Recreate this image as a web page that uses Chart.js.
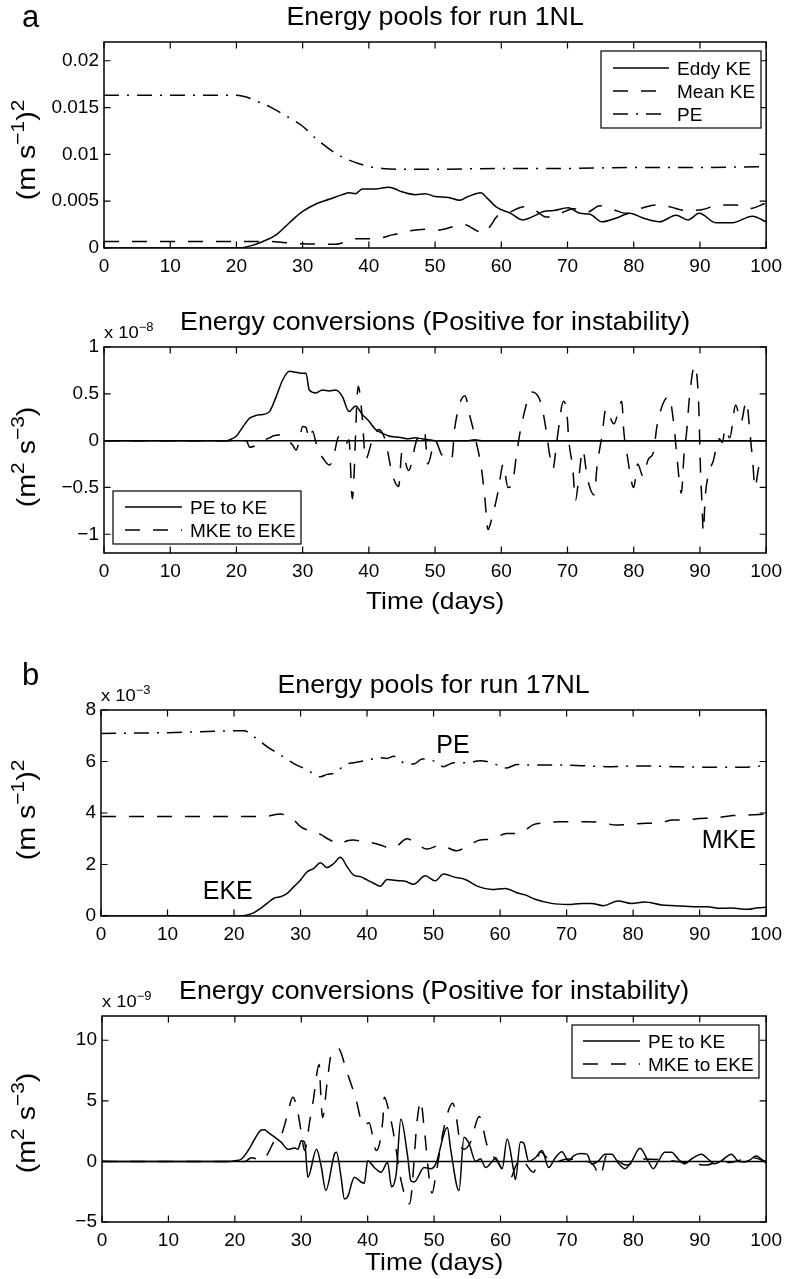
<!DOCTYPE html>
<html><head><meta charset="utf-8">
<script src="https://cdn.jsdelivr.net/npm/chart.js@4.4.1/dist/chart.umd.min.js"></script>
<style>
html,body{margin:0;padding:0;background:#fff;}
#wrap{position:relative;width:789px;height:1279px;overflow:hidden;background:#fff;}
canvas{position:absolute;left:0;}
</style></head><body><div id="wrap">
<canvas id="c1" width="789" height="300" style="top:0px"></canvas>
<canvas id="c2" width="789" height="340" style="top:300px"></canvas>
<canvas id="c3" width="789" height="320" style="top:640px"></canvas>
<canvas id="c4" width="789" height="319" style="top:960px"></canvas>
</div>
<script>
// ---------------- DATA ----------------
const xTickValues = [0,10,20,30,40,50,60,70,80,90,100];
const xTickLabels = ['0','10','20','30','40','50','60','70','80','90','100'];

// Panel a, energy pools (m s^-1)^2
const poolA_yTicks = [0,0.005,0.01,0.015,0.02];
const poolA_yLabels = ['0','0.005','0.01','0.015','0.02'];
const eddyKE_days = [0,20,22,24,26,28,30,32,34,36,37,38,39,41,43,44,45,47,48.5,50,52,53.7,55,56.9,57.9,59.4,61.4,63.2,64.9,66.4,67.9,70.1,71.9,73.4,75.2,77.4,79.4,81.4,83.9,86.4,88.2,89.9,92.4,94.9,97.9,100];
const eddyKE_vals = [0,0,0.0002,0.0007,0.0014,0.0027,0.0039,0.0047,0.0052,0.0057,0.0059,0.0058,0.0063,0.0063,0.0065,0.0063,0.0060,0.0057,0.0058,0.0055,0.0054,0.0051,0.0055,0.0059,0.0053,0.0043,0.0037,0.0030,0.0034,0.0039,0.0040,0.0043,0.0037,0.0036,0.0028,0.0032,0.0037,0.0032,0.0028,0.0035,0.0030,0.0037,0.0027,0.0027,0.0034,0.0028];
const meanKE_days = [0,25,27,30,32,35,37,38,40,42,43.5,45,46,48.5,50.4,52.9,54.4,56.4,57.4,58.4,59.4,60.9,63.4,64.9,66.9,68.9,70.9,72.9,74.9,76.9,78.9,81.4,83.4,85.4,87.9,90.4,92.9,95.4,97.4,100];
const meanKE_vals = [0.0007,0.0007,0.0006,0.00045,0.00042,0.0004,0.0008,0.001,0.001,0.0011,0.0014,0.0016,0.0018,0.002,0.0019,0.0023,0.0025,0.0018,0.0016,0.0024,0.0034,0.0037,0.0044,0.0041,0.0033,0.0037,0.0042,0.0038,0.0045,0.0041,0.0037,0.0043,0.0046,0.0044,0.0040,0.0041,0.0046,0.0046,0.0042,0.0048];
const peA_days = [0,20,21,22,23,25,27,30,32,35,37,40,42,45,50,60,70,80,90,100];
const peA_vals = [0.0163,0.0163,0.0162,0.0160,0.0157,0.0151,0.0143,0.0130,0.0117,0.0101,0.0094,0.0087,0.0085,0.0084,0.0084,0.0085,0.0085,0.0086,0.0086,0.0087];

// Panel a, energy conversions (x 1e-8 m^2 s^-3)
const convA_yTicks = [-1,-0.5,0,0.5,1];
const convA_yLabels = ['\u22121','\u22120.5','0','0.5','1'];
const peToKeA_days = [0,18.5,19,20,21,22,23,24,25,26,27,28,29,30,30.5,31,32,33,34,35,36,37,38,39,40,41,42,43,44,45,46,47,48,49,50,55,56,57,60,70,80,90,100];
const peToKeA_vals = [0,0,0.01,0.05,0.15,0.24,0.27,0.28,0.31,0.47,0.65,0.74,0.73,0.72,0.72,0.54,0.51,0.54,0.53,0.54,0.47,0.31,0.37,0.28,0.21,0.12,0.08,0.05,0.04,0.03,0.02,0.03,0.02,0.01,0,0,0.01,0,0,0,0,0,0];
const mkeToEkeA_days = [0,21.5,22,23,24,25,25.5,26.5,27.5,28.5,29,29.5,30,30.5,31,31.5,32,32.5,33,34,34.5,35.5,36,36.5,37,37.5,38.4,39,39.5,40.5,41.5,42.5,43.5,44.5,45,46,47.2,48.4,48.9,50,51,52.5,53,54.5,55.3,56,57,57.5,58,58.5,59.5,60.3,61,61.7,62.3,63,64.7,66,66.8,67.3,67.8,68.4,69.4,69.9,70.2,70.8,71.2,71.7,72.3,73,74,74.5,75.2,75.8,77,78.2,78.5,79,80,80.6,81.4,82.2,83,83.5,85.3,86.1,86.5,87.2,87.6,88,88.4,89.2,89.7,89.9,90,90.1,90.3,90.5,90.8,91.3,92,92.9,93.4,93.8,94.5,95.4,96.2,97,97.6,98,98.3,99,100];
const mkeToEkeA_vals = [0,0,-0.07,-0.05,0,0.03,0.05,0.06,0.02,-0.05,-0.1,0,0.15,0.14,0.02,0.1,-0.02,-0.13,-0.18,-0.26,-0.22,0.05,0.03,-0.04,0.01,-0.62,0.58,0.25,-0.2,0,0.12,0,-0.35,-0.49,-0.12,-0.32,0,0.1,-0.25,0,-0.15,-0.2,0.15,0.48,0.25,0.05,-0.3,-0.6,-0.95,-0.85,-0.55,-0.25,-0.5,-0.45,-0.15,0.15,0.52,0.4,0.1,-0.15,-0.3,0,0.42,0.3,0,-0.3,-0.64,-0.4,-0.1,-0.4,-0.58,-0.25,0.05,0.34,0.18,0.42,0.1,-0.15,-0.5,-0.25,-0.38,-0.2,-0.12,0.15,0.47,0.15,-0.15,-0.56,-0.15,0.1,0.45,0.8,0.55,0.2,-0.1,-0.35,-0.65,-0.97,-0.6,-0.35,-0.22,0.02,-0.02,0.13,0.03,0.38,0.2,0.42,0.05,-0.25,-0.5,-0.27,-0.35];

// Panel b, energy pools (x 1e-3 (m s^-1)^2)
const poolB_yTicks = [0,2,4,6,8];
const poolB_yLabels = ['0','2','4','6','8'];
const peB_days = [0,10,20,21.5,23,25,27,29,31,32,33,34,35,36,37,38,40,42,43,44,45.5,47,48.3,50.2,51.5,53,55,57,58,59.7,61,62.5,65,70,76,81,86,91,97,100];
const peB_vals = [7.09,7.12,7.19,7.19,6.96,6.57,6.25,5.92,5.67,5.51,5.41,5.5,5.54,5.73,5.9,5.95,6.05,6.15,6.12,6.2,5.95,5.9,6.1,6.0,5.8,5.95,5.95,6.03,6.0,5.85,5.75,5.88,5.86,5.86,5.8,5.83,5.8,5.78,5.78,5.85];
const mkeB_days = [0,22,25,27,28,29,30,31,32,33,34,35,36,37,38,39,40,42,43.5,44.5,46,47.5,49,51,53.5,55,57,58.5,61,63,65,67,69,71,73,75,77.5,79,82,84,86,88,90,92,95,97,100];
const mkeB_vals = [3.86,3.86,3.88,3.96,3.88,3.73,3.47,3.34,3.27,3.17,3.01,2.88,2.8,2.92,2.95,2.91,2.88,2.76,2.63,2.72,3.0,2.8,2.6,2.75,2.53,2.7,2.95,2.98,3.2,3.22,3.55,3.62,3.66,3.66,3.66,3.64,3.53,3.55,3.6,3.62,3.73,3.73,3.79,3.8,3.9,3.92,3.96];
const ekeB_days = [0,21,22,23,24,25,26,27,28,29,30,31,32,33,34,35,36,37,38,39,40,41,42,43,44.75,45.75,47,48.75,50.25,51.5,53.25,54.75,56.75,58.75,60.75,62.75,63.75,65.25,67.75,70.25,72.25,73.75,75.5,77.75,79.75,81.75,84.25,86.25,89.25,91.25,92.75,94.75,97.25,98.75,100];
const ekeB_vals = [0,0,0.04,0.13,0.3,0.5,0.69,0.75,0.88,1.14,1.4,1.72,1.85,2.07,1.88,2.04,2.28,1.91,1.59,1.53,1.4,1.27,1.16,1.42,1.37,1.35,1.23,1.56,1.37,1.63,1.5,1.42,1.14,1.03,1.07,0.88,0.82,0.65,0.49,0.45,0.49,0.49,0.4,0.58,0.49,0.54,0.43,0.4,0.36,0.36,0.3,0.31,0.26,0.32,0.34];

// Panel b, energy conversions (x 1e-9 m^2 s^-3)
const convB_yTicks = [-5,0,5,10];
const convB_yLabels = ['\u22125','0','5','10'];
const peToKeB_days = [0,19,20,21,22,23,24,24.5,25,26,27,28,29,29.5,30,30.5,31,32.3,33,33.7,35,35.3,36,36.5,37,38,39,39.5,40,41,42,43,43.6,44.3,45,46,46.5,47,48.5,49.5,50.25,52,52.5,53.75,54.5,55.25,56.25,57,57.75,58.75,59.25,60.25,61,62,62.25,63,63.5,64.25,65.25,66.25,67.25,68.25,69.25,70.25,71,72,73,73.75,74.75,75.75,76.75,77.75,78.75,79.75,81,82.25,83,83.75,84.75,85.75,86.75,87.75,88.75,90.25,91.25,92.25,93.25,94.75,95.75,96.75,97.5,98.5,99.25,100];
const peToKeB_vals = [0,0,0.05,0.2,0.9,1.85,2.6,2.62,2.4,2.0,1.57,1.0,1.1,1.0,1.7,1.6,-1.3,1.0,-0.4,-2.4,0.6,0.75,-1.3,-3.1,-2.9,-1.3,-1.7,-1.8,0.05,-0.5,-0.9,-0.1,-2.1,-1.0,3.5,0.5,-1.6,-1.7,-0.5,-0.6,-0.2,2.8,1.0,-2.4,2.0,1.5,0,0.2,-0.5,0,0.3,-0.6,1.85,-0.8,-1.5,1.6,1.5,0,0.3,0.9,-0.5,0.3,0.8,0.05,0.45,0.65,0.6,-0.2,0.05,0.6,0.6,-0.15,-0.6,0,1.08,0,-0.6,0,0.75,0.75,0.2,-0.2,0.2,0.6,0.2,-0.2,0.05,0.6,0.05,-0.05,0.1,0.45,0.2,-0.15];
const mkeToEkeB_days = [0,21.5,22.5,24,24.8,26.2,27,27.8,28.75,29.5,30,30.5,31.3,31.8,32.7,32.9,33.2,33.9,34.5,35.6,36.8,38.3,39.2,39.6,40.2,41.3,42.3,42.5,43.3,44,45,46.3,47.5,48,48.5,49.7,50.3,51.5,52.8,53.3,54,54.5,55.5,56.8,58,59.5,60.2,61.6,62.2,63,65,66,67,68,70,72,74,75,76,77,79,81,85,88,91,93,94.5,96,98,100];
const mkeToEkeB_vals = [0,0,0.3,0.1,0.5,1.9,2.2,3.6,5.3,4.0,2.4,0.9,3.4,5.0,8.0,6.0,3.6,6.5,8.8,9.3,7.5,5.0,3.1,3.0,3.2,0.9,3.5,5.3,3.9,2.0,-1.5,-3.5,3.6,5.0,2.8,-2.6,-1.0,2.8,4.8,3.8,1.3,1.0,1.6,3.7,1.3,0,-0.6,-1.3,-0.5,0.2,-0.9,0.8,0.3,-0.1,0.2,0.1,-0.3,-1.2,0.5,0.3,-0.3,0.2,0.1,-0.1,-0.3,0,-0.1,0.1,0.3,0];

// ---------------- RENDERING ----------------
const FONT = '"Liberation Sans", Arial, Helvetica, sans-serif';
const SOLID = [], DASHED = [15,13], DASHDOT = [15,8,2,8];
function f(size){ return size + 'px ' + FONT; }

// draw text made of [text, isSuperscript] parts, with optional horizontal stretch sx
function rich(ctx, parts, x, y, size, align, sx){
  sx = sx || 1;
  const sup = Math.round(size*0.72);
  let w = 0;
  const ws = parts.map(p => { ctx.font = f(p[1] ? sup : size); const m = ctx.measureText(p[0]).width; w += m; return m; });
  const W = w * sx;
  const x0 = align === 'center' ? x - W/2 : (align === 'right' ? x - W : x);
  ctx.save();
  ctx.translate(x0, y); ctx.scale(sx, 1);
  ctx.textAlign = 'left'; ctx.textBaseline = 'alphabetic';
  let cx = 0;
  parts.forEach((p,i) => { ctx.font = f(p[1] ? sup : size); ctx.fillText(p[0], cx, p[1] ? -size*0.42 : 0); cx += ws[i]; });
  ctx.restore();
}

function makeChart(id, cfg){
  const deco = {
    id: 'deco' + id,
    beforeDatasetsDraw(chart){
      const ctx = chart.ctx, a = chart.chartArea, ys = chart.scales.y;
      if (cfg.zeroLine){
        ctx.save(); ctx.strokeStyle = '#000'; ctx.lineWidth = 1.5; ctx.setLineDash([]);
        const y0 = ys.getPixelForValue(0);
        ctx.beginPath(); ctx.moveTo(a.left, y0); ctx.lineTo(a.right, y0); ctx.stroke(); ctx.restore();
      }
    },
    afterDraw(chart){
      const ctx = chart.ctx, a = chart.chartArea, xs = chart.scales.x, ys = chart.scales.y;
      ctx.save();
      ctx.fillStyle = '#000'; ctx.strokeStyle = '#000'; ctx.setLineDash([]);
      // box
      ctx.lineWidth = 1.5;
      ctx.strokeRect(a.left, a.top, a.right - a.left, a.bottom - a.top);
      // inward ticks
      const tl = 6.5;
      ctx.lineWidth = 1.2;
      ctx.beginPath();
      xTickValues.forEach(v => { const px = xs.getPixelForValue(v);
        ctx.moveTo(px, a.bottom); ctx.lineTo(px, a.bottom - tl);
        ctx.moveTo(px, a.top); ctx.lineTo(px, a.top + tl); });
      cfg.yTicks.forEach(v => { const py = ys.getPixelForValue(v);
        ctx.moveTo(a.left, py); ctx.lineTo(a.left + tl, py);
        ctx.moveTo(a.right, py); ctx.lineTo(a.right - tl, py); });
      ctx.stroke();
      ctx.translate(0, -cfg.top);
      const top = cfg.top + a.top, bottom = cfg.top + a.bottom;
      // panel letter
      if (cfg.letter){ rich(ctx, [[cfg.letter[0], false]], cfg.letter[1], cfg.letter[2], 31, 'left', 1); }
      // title
      const cxm = (a.left + a.right) / 2;
      rich(ctx, [[cfg.title, false]], cxm, top - 17, 25, 'center', 1.07);
      // exponent
      if (cfg.exponent){ rich(ctx, [['x 10', false], [cfg.exponent, true]], a.left, top - 9, 17, 'left', 1.08); }
      // x label
      if (cfg.xlabel){ rich(ctx, [[cfg.xlabel, false]], cxm, bottom + cfg.xlabelDy, 24, 'center', 1.1); }
      // y label (rotated)
      ctx.save();
      ctx.translate(35, (top + bottom) / 2 + cfg.ylabelDy);
      ctx.rotate(-Math.PI/2);
      rich(ctx, cfg.ylabel, 0, 0, 26, 'center', 1.1);
      ctx.restore();
      // annotations
      (cfg.notes || []).forEach(n => {
        rich(ctx, [[n.text, false]], xs.getPixelForValue(n.x), cfg.top + ys.getPixelForValue(n.y), 25, 'left', 1);
      });
      // legend
      if (cfg.legend){
        const L = cfg.legend;
        ctx.fillStyle = '#fff';
        ctx.fillRect(L.x, L.y, L.w, L.h);
        ctx.fillStyle = '#000'; ctx.lineWidth = 1.2; ctx.setLineDash([]);
        ctx.strokeRect(L.x, L.y, L.w, L.h);
        chart.data.datasets.forEach((ds, i) => {
          const ly = L.rows[i];
          ctx.lineWidth = 1.5; ctx.setLineDash(ds.borderDash || []);
          ctx.beginPath(); ctx.moveTo(L.lx1, ly); ctx.lineTo(L.lx2, ly); ctx.stroke();
          ctx.setLineDash([]);
          rich(ctx, [[ds.label, false]], L.tx, ly + 7, 19, 'left', 1);
        });
      }
      ctx.restore();
    }
  };
  const datasets = cfg.series.map(s => ({
    label: s.label,
    data: s.days.map((d, i) => ({x: d, y: s.vals[i]})),
    borderColor: '#000', borderWidth: 1.5, borderDash: s.dash,
    pointRadius: 0, fill: false, cubicInterpolationMode: 'monotone', borderJoinStyle: 'round'
  }));
  return new Chart(document.getElementById(id), {
    type: 'line',
    data: { datasets },
    options: {
      responsive: false, animation: false, devicePixelRatio: 1,
      layout: { padding: cfg.pad },
      plugins: { legend: {display: false}, title: {display: false}, tooltip: {enabled: false} },
      scales: {
        x: {
          type: 'linear', min: 0, max: 100,
          grid: {display: false, drawTicks: false}, border: {display: false},
          afterBuildTicks: sc => { sc.ticks = xTickValues.map(v => ({value: v})); },
          afterFit: sc => { sc.height = 30; },
          ticks: { font: {family: FONT, size: 19}, color: '#000', padding: 7, maxRotation: 0, autoSkip: false,
                   callback: (v, i) => xTickLabels[i] }
        },
        y: {
          type: 'linear', min: cfg.ymin, max: cfg.ymax,
          grid: {display: false, drawTicks: false}, border: {display: false},
          afterBuildTicks: sc => { sc.ticks = cfg.yTicks.map(v => ({value: v})); },
          afterFit: sc => { sc.width = cfg.yWidth; },
          ticks: { font: {family: FONT, size: 19}, color: '#000', padding: 5, autoSkip: false,
                   callback: (v, i) => cfg.yLabels[i] }
        }
      }
    },
    plugins: [deco]
  });
}

const unitPool = [['(m s', false], ['\u22121', true], [')', false], ['2', true]];
const unitConv = [['(m', false], ['2', true], [' s', false], ['\u22123', true], [')', false]];

makeChart('c1', {
  top: 0, pad: {top: 42, bottom: 22, left: 0, right: 18}, yWidth: 104,
  ymin: 0, ymax: 0.022, yTicks: poolA_yTicks, yLabels: poolA_yLabels,
  title: 'Energy pools for run 1NL', letter: ['a', 22, 27],
  ylabel: unitPool, ylabelDy: 5,
  series: [
    {label: 'Eddy KE', days: eddyKE_days, vals: eddyKE_vals, dash: SOLID},
    {label: 'Mean KE', days: meanKE_days, vals: meanKE_vals, dash: DASHED},
    {label: 'PE', days: peA_days, vals: peA_vals, dash: DASHDOT}
  ],
  legend: {x: 601, y: 51, w: 160, h: 77, rows: [68, 91, 114], lx1: 613, lx2: 669, tx: 677}
});

makeChart('c2', {
  top: 300, pad: {top: 47, bottom: 57, left: 0, right: 18}, yWidth: 104,
  ymin: -1.2, ymax: 1, yTicks: convA_yTicks, yLabels: convA_yLabels,
  title: 'Energy conversions (Positive for instability)',
  exponent: '\u22128', xlabel: 'Time (days)', xlabelDy: 56,
  ylabel: unitConv, ylabelDy: 7, zeroLine: true,
  series: [
    {label: 'PE to KE', days: peToKeA_days, vals: peToKeA_vals, dash: SOLID},
    {label: 'MKE to EKE', days: mkeToEkeA_days, vals: mkeToEkeA_vals, dash: DASHED}
  ],
  legend: {x: 113, y: 491, w: 188, h: 53, rows: [507, 530], lx1: 125, lx2: 182, tx: 190}
});

makeChart('c3', {
  top: 640, pad: {top: 70, bottom: 14, left: 0, right: 21}, yWidth: 101,
  ymin: 0, ymax: 8, yTicks: poolB_yTicks, yLabels: poolB_yLabels,
  title: 'Energy pools for run 17NL', letter: ['b', 22, 685],
  exponent: '\u22123',
  ylabel: unitPool, ylabelDy: -3,
  series: [
    {label: 'EKE', days: ekeB_days, vals: ekeB_vals, dash: SOLID},
    {label: 'MKE', days: mkeB_days, vals: mkeB_vals, dash: DASHED},
    {label: 'PE', days: peB_days, vals: peB_vals, dash: DASHDOT}
  ],
  notes: [ {text: 'PE', x: 50.4, y: 6.33}, {text: 'MKE', x: 90.3, y: 2.64}, {text: 'EKE', x: 15.3, y: 0.66} ]
});

makeChart('c4', {
  top: 960, pad: {top: 56, bottom: 27, left: 0, right: 21}, yWidth: 102,
  ymin: -5, ymax: 12, yTicks: convB_yTicks, yLabels: convB_yLabels,
  title: 'Energy conversions (Positive for instability)',
  exponent: '\u22129', xlabel: 'Time (days)', xlabelDy: 48,
  ylabel: unitConv, ylabelDy: 4, zeroLine: true,
  series: [
    {label: 'PE to KE', days: peToKeB_days, vals: peToKeB_vals, dash: SOLID},
    {label: 'MKE to EKE', days: mkeToEkeB_days, vals: mkeToEkeB_vals, dash: DASHED}
  ],
  legend: {x: 572, y: 1025, w: 187, h: 53, rows: [1041, 1064], lx1: 583, lx2: 640, tx: 648}
});
</script>
</body></html>
